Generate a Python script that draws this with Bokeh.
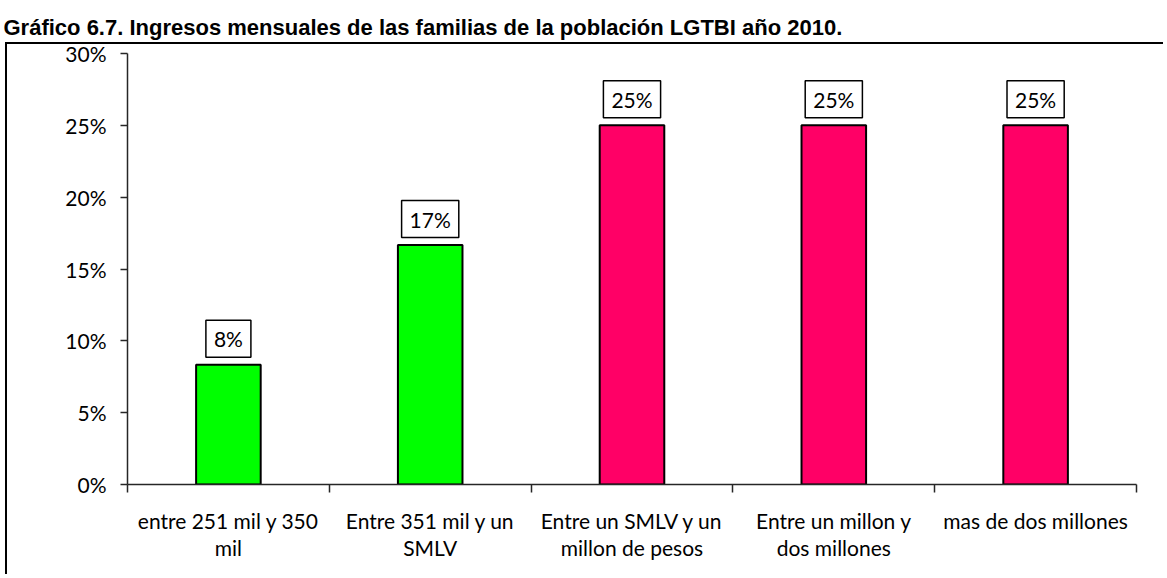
from bokeh.plotting import figure
from bokeh.models import (Range1d, FixedTicker, LinearAxis, Label,
                          PrintfTickFormatter, InlineStyleSheet)
from bokeh.embed import file_html
from bokeh.resources import INLINE

# ---- data ----
title_text = "Gráfico 6.7. Ingresos mensuales de las familias de la población LGTBI año 2010."
categories = ["entre 251 mil y 350\nmil",
              "Entre 351 mil y un\nSMLV",
              "Entre un SMLV y un\nmillon de pesos",
              "Entre un millon y\ndos millones",
              "mas de dos millones"]
values = [8.33, 16.67, 25.0, 25.0, 25.0]          # percent
value_labels = ["8%", "17%", "25%", "25%", "25%"]
bar_colors = ["#00FF00", "#00FF00", "#FF0066", "#FF0066", "#FF0066"]
y_ticks = [0, 5, 10, 15, 20, 25, 30]

FONT = "Lato"
FS = "21px"
W, H = 1163, 574
LEFT, TOP, RIGHT, BOTTOM = 127, 53, 1136, 484

n = len(categories)
xs = [i + 0.5 for i in range(n)]

p = figure(width=W, height=H,
           x_range=Range1d(0, n), y_range=Range1d(0, 30),
           x_axis_type=None, y_axis_type=None,
           output_backend="svg", toolbar_location=None,
           min_border_left=LEFT, min_border_right=W - RIGHT,
           min_border_top=TOP, min_border_bottom=H - BOTTOM)
p.outline_line_color = None
p.grid.visible = False
p.background_fill_color = "white"
p.border_fill_color = "white"

# title (rendered in the panel above the plot, shifted to the left edge)
p.title.text = title_text
p.title.align = "left"
p.title.vertical_align = "top"
p.title.offset = 3 - LEFT
p.title.standoff = 24
p.title.text_font = "Liberation Sans"
p.title.text_font_style = "bold"
p.title.text_font_size = "22px"
p.title.text_color = "black"

# chart border: top and left edges (the rest lies beyond the window)
p.stylesheets = [InlineStyleSheet(css="""
:host::after {
  content: "";
  position: absolute;
  left: 5px; top: 42px; right: 0; bottom: 0;
  border-left: 2px solid black;
  border-top: 2px solid black;
  pointer-events: none;
  z-index: 100;
}
""")]

# y axis
yaxis = LinearAxis(ticker=FixedTicker(ticks=y_ticks),
                   formatter=PrintfTickFormatter(format="%d%%"))
yaxis.axis_line_color = "#262626"
yaxis.axis_line_width = 1.5
yaxis.major_tick_line_color = "#262626"
yaxis.major_tick_line_width = 1.5
yaxis.major_tick_out = 7
yaxis.major_tick_in = 0
yaxis.minor_tick_line_color = None
yaxis.major_label_standoff = 14
yaxis.major_label_text_font = FONT
yaxis.major_label_text_font_size = FS
yaxis.major_label_text_color = "black"
p.add_layout(yaxis, "left")

# x axis: labels at category centres, ticks at category boundaries
xaxis = LinearAxis(ticker=FixedTicker(ticks=xs, minor_ticks=list(range(n + 1))))
xaxis.major_label_overrides = {x: c for x, c in zip(xs, categories)}
xaxis.axis_line_color = "#262626"
xaxis.axis_line_width = 1.5
xaxis.major_tick_line_color = None
xaxis.major_tick_out = 0
xaxis.major_tick_in = 0
xaxis.minor_tick_line_color = "#262626"
xaxis.minor_tick_line_width = 1.5
xaxis.minor_tick_out = 8
xaxis.minor_tick_in = 0
xaxis.major_label_standoff = 15
xaxis.major_label_text_font = FONT
xaxis.major_label_text_font_size = FS
xaxis.major_label_text_color = "black"
xaxis.major_label_text_line_height = 1.1
p.add_layout(xaxis, "below")

# bars
p.vbar(x=xs, top=values, width=0.32, bottom=0,
       fill_color=bar_colors, line_color="black", line_width=2)

# value labels in boxes
for x, v, lab in zip(xs, values, value_labels):
    p.add_layout(Label(x=x, y=v, text=lab, y_offset=26,
                       text_align="center", text_baseline="middle",
                       text_font=FONT, text_font_size=FS, text_color="black",
                       background_fill_color="white",
                       border_line_color="black", border_line_width=1.5,
                       padding=dict(left=8, right=8, top=6, bottom=6)))

open("out.html", "w").write(file_html(p, INLINE))
